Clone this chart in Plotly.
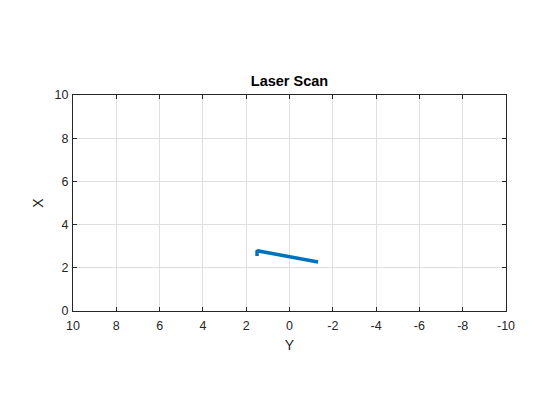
import plotly.graph_objects as go

# Laser scan points (horizontal axis = Y, vertical axis = X)
scan_y = [1.50, 1.50, 1.45, 1.0, 0.5, 0.0, -0.5, -1.0, -1.32]
scan_x = [2.55, 2.75, 2.78, 2.70, 2.61, 2.52, 2.43, 2.34, 2.27]

x_ticks = [10, 8, 6, 4, 2, 0, -2, -4, -6, -8, -10]
x_tick_text = ["10", "8", "6", "4", "2", "0", "-2", "-4", "-6", "-8", "-10"]
y_ticks = [0, 2, 4, 6, 8, 10]

fig = go.Figure()
fig.add_trace(go.Scatter(x=scan_y, y=scan_x, mode="lines",
                         line=dict(color="#0072BD", width=3.5),
                         showlegend=False))

axis_common = dict(showline=True, linecolor="#262626", linewidth=1, mirror="ticks",
                   ticks="inside", ticklen=4, tickcolor="#262626",
                   showgrid=True, gridcolor="#DFDFDF", gridwidth=1,
                   zeroline=False, tickfont=dict(size=12.5, color="#262626"))

fig.update_layout(
    width=560, height=420,
    paper_bgcolor="white", plot_bgcolor="white",
    margin=dict(l=65, r=62, t=87, b=117),
    font=dict(family="Liberation Sans, Arial, sans-serif", color="#262626"),
    title=dict(text="<b>Laser Scan</b>", xref="paper", x=0.5, xanchor="center",
               y=1 - 73/420, yanchor="middle",
               font=dict(size=14.5, color="black")),
    xaxis=dict(range=[10, -10], tickvals=x_ticks, ticktext=x_tick_text,
               ticklabelstandoff=3,
               title=dict(text="Y", font=dict(size=14), standoff=8),
               **axis_common),
    yaxis=dict(range=[0, 10], tickvals=y_ticks, ticklabelstandoff=1,
               title=dict(text="X", font=dict(size=14), standoff=7),
               **axis_common),
)

fig.write_html("out.html")
